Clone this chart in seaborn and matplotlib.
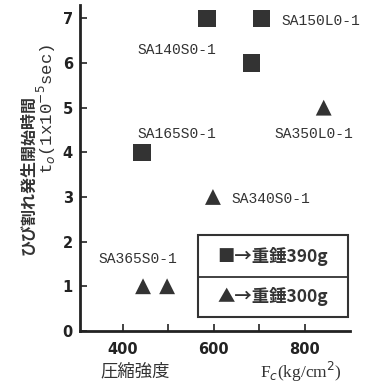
import matplotlib
matplotlib.use("Agg")
import matplotlib.pyplot as plt
import seaborn as sns
import pandas as pd
from matplotlib.patches import Rectangle
from matplotlib.lines import Line2D

# data
sq_x = [585, 705, 683, 442]
sq_y = [7, 7, 6, 4]
tri_x = [444, 497, 598, 842]
tri_y = [1, 1, 3, 5]
x_ticks = [400, 500, 600, 700, 800]
x_ticklabels = ["400", "", "600", "", "800"]
y_ticks = [0, 1, 2, 3, 4, 5, 6, 7]
specimens = ["SA140S0-1", "SA150L0-1", "SA165S0-1", "SA350L0-1", "SA340S0-1", "SA365S0-1"]
spec_pos = [(519, 6.3), (835, 6.95), (519, 4.4), (820, 4.4), (725, 2.95), (433, 1.62)]
legend_labels = ["■→重錘390g", "▲→重錘300g"]

df = pd.DataFrame({
    "Fc": sq_x + tri_x,
    "t0": sq_y + tri_y,
    "hammer": ["390g"] * len(sq_x) + ["300g"] * len(tri_x),
})

sns.set_style("white")
plt.rcParams["font.family"] = ["Noto Sans CJK JP", "DejaVu Sans"]

fig = plt.figure(figsize=(3.65, 3.83), dpi=100)
ax = fig.add_axes([0.219, 0.136, 0.74, 0.851])

sq = df[df.hammer == "390g"]
tr = df[df.hammer == "300g"]
sns.scatterplot(data=sq, x="Fc", y="t0", marker="s", s=160, color="#333333",
                edgecolor="none", ax=ax, legend=False)
sns.scatterplot(data=tr, x="Fc", y="t0", marker="^", s=130, color="#333333",
                edgecolor="none", ax=ax, legend=False)

ax.set_xlim(305, 900)
ax.set_ylim(0, 7.3)
ax.set_xticks(x_ticks)
ax.set_xticklabels(x_ticklabels)
ax.set_yticks(y_ticks)
ax.set_yticklabels([str(v) for v in y_ticks])
ax.tick_params(direction="in", length=5, width=1.2, colors="#222222",
               labelsize=10.5, left=True, bottom=True)
ax.tick_params(axis="y", pad=5)
ax.tick_params(axis="x", pad=8)
for lab in ax.get_xticklabels() + ax.get_yticklabels():
    lab.set_fontweight("bold")
    lab.set_family(["DejaVu Sans Condensed", "DejaVu Sans"])
for s in ["top", "right"]:
    ax.spines[s].set_visible(False)
for s in ["left", "bottom"]:
    ax.spines[s].set_linewidth(2)
    ax.spines[s].set_color("#222222")
ax.set_xlabel("")
ax.set_ylabel("")

mono = ["Liberation Mono", "DejaVu Sans Mono"]
for name, (px, py) in zip(specimens, spec_pos):
    ax.text(px, py, name, ha="center", va="center", fontsize=10.5,
            family=mono, color="#333333", clip_on=False)

# axis labels
fig.text(0.077, 0.543, "ひび割れ発生開始時間", rotation=90, ha="center", va="center",
         fontsize=11.5, fontweight="bold", color="#333333")
fig.text(0.128, 0.715, r"t$_o$(1x10$^{-5}$sec)", rotation=90, ha="center", va="center",
         fontsize=12.5, family=mono, color="#333333")
fig.text(0.37, 0.03, "圧縮強度", ha="center", va="center", fontsize=12.5, color="#333333")
fig.text(0.825, 0.03, r"F$_c$(kg/cm$^2$)", ha="center", va="center", fontsize=12.5,
         family=["Liberation Serif", "DejaVu Serif"], color="#333333")

# legend box
x0, x1 = 198 / 365, 348 / 365
y0, y1 = 1 - 317 / 383, 1 - 235 / 383
ym = 1 - 277 / 383
fig.patches.append(Rectangle((x0, y0), x1 - x0, y1 - y0, transform=fig.transFigure,
                             fill=False, lw=1.5, edgecolor="#333333"))
fig.lines.append(Line2D([x0, x1], [ym, ym], transform=fig.transFigure,
                        lw=1.3, color="#333333"))
fig.text((x0 + x1) / 2, (ym + y1) / 2, legend_labels[0], ha="center", va="center",
         fontsize=12.5, fontweight="bold", color="#333333")
fig.text((x0 + x1) / 2, (ym + y0) / 2, legend_labels[1], ha="center", va="center",
         fontsize=12.5, fontweight="bold", color="#333333")

fig.savefig("out.png", dpi=100)
